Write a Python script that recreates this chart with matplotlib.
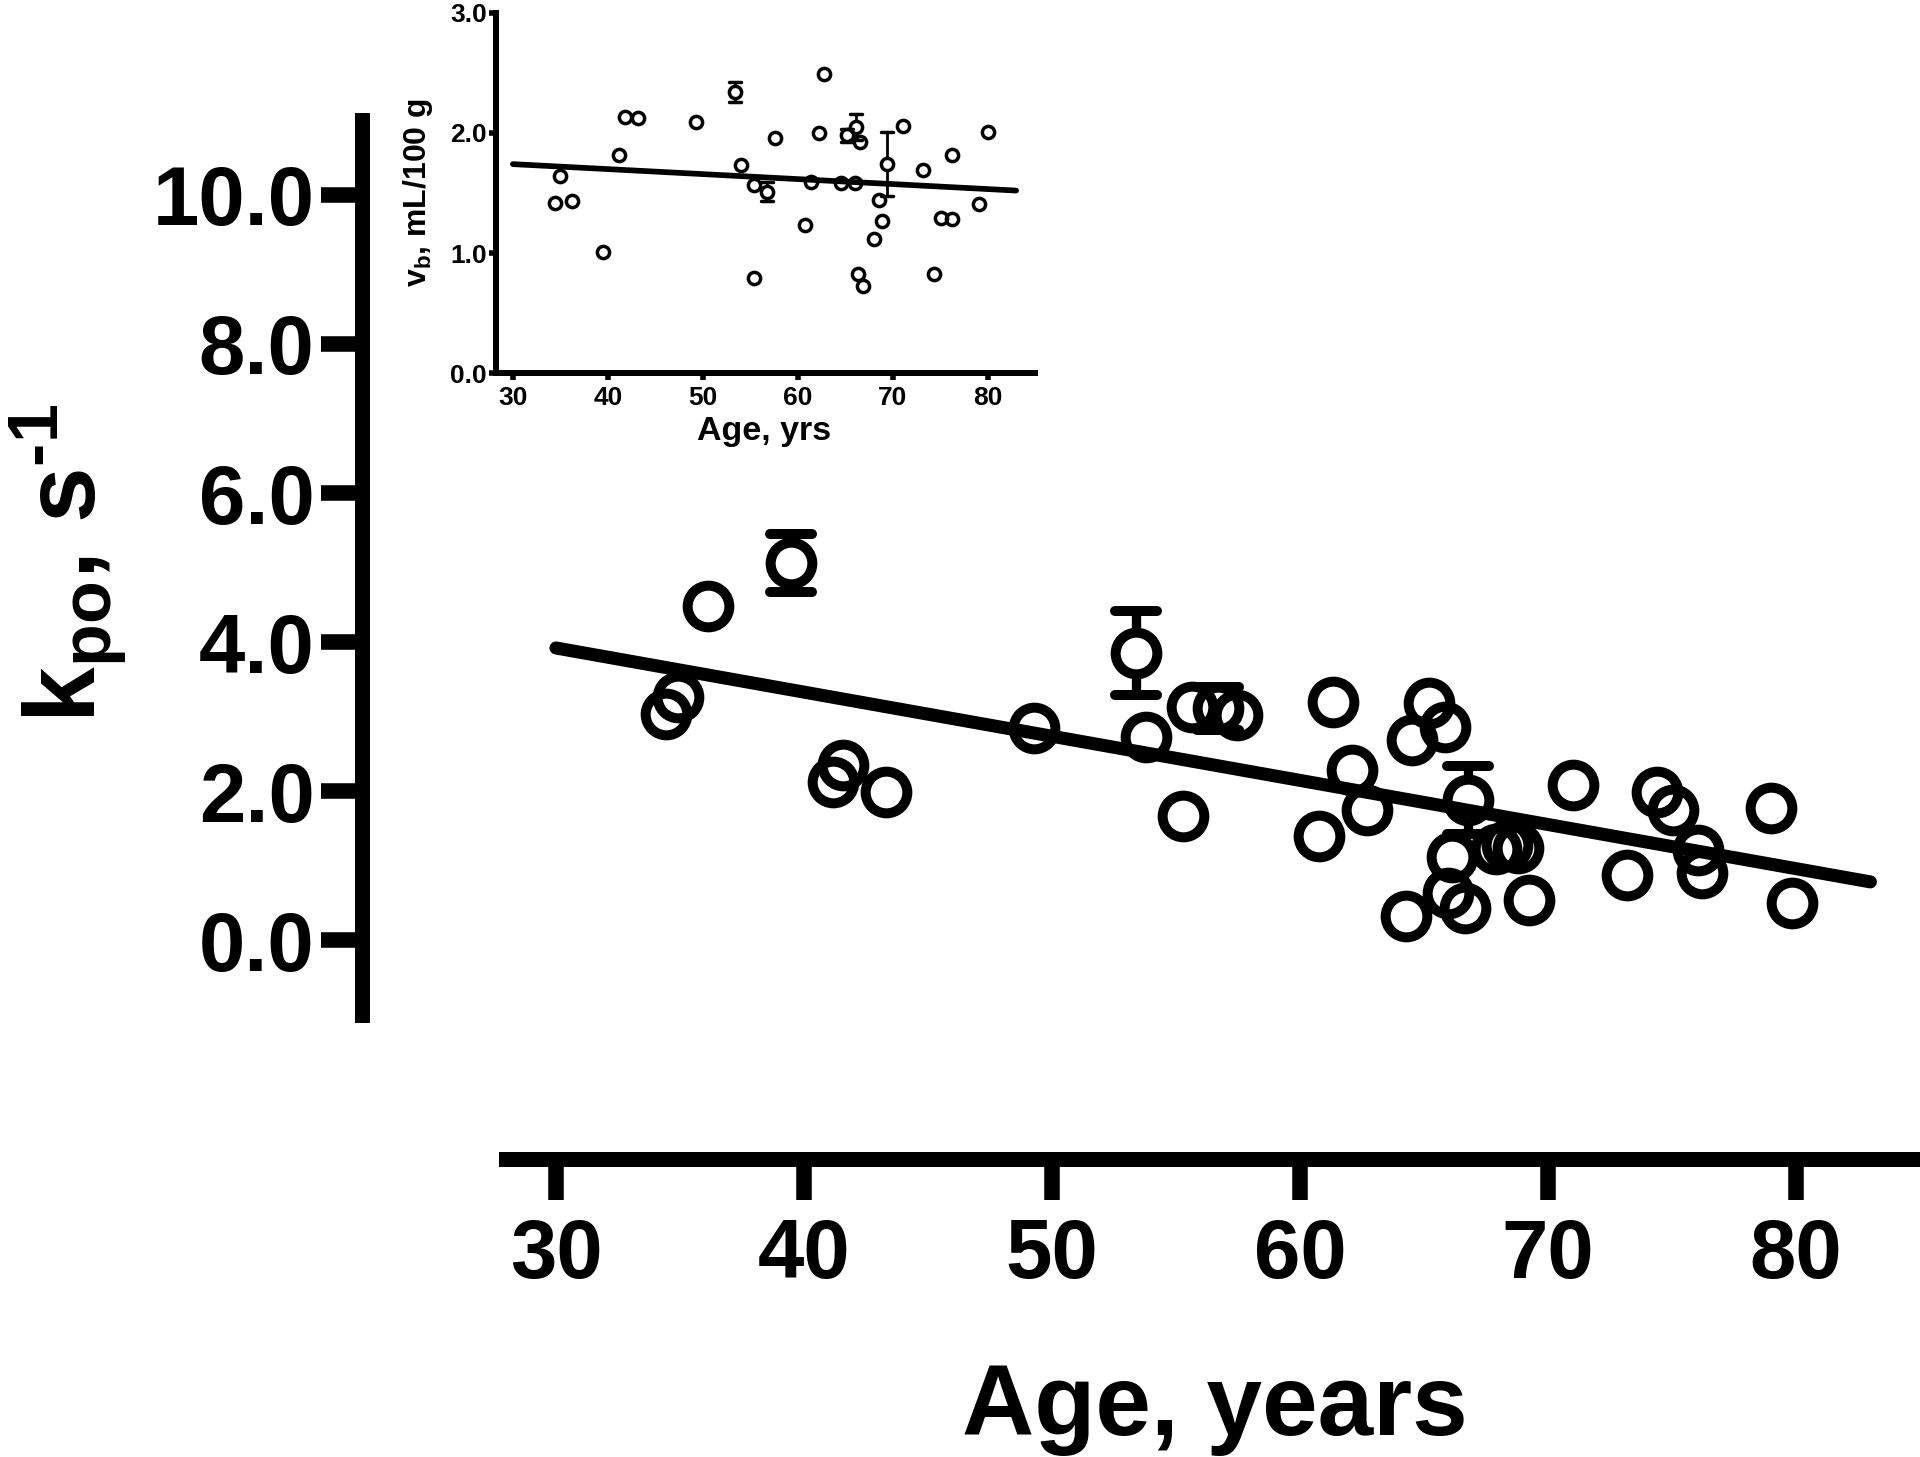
import matplotlib
matplotlib.use('Agg')

import matplotlib.pyplot as plt
from matplotlib.markers import MarkerStyle

plt.rcParams['font.family'] = ['Liberation Sans', 'DejaVu Sans']
plt.rcParams['font.weight'] = 'bold'
plt.rcParams['mathtext.default'] = 'regular'
plt.rcParams['mathtext.fontset'] = 'custom'
plt.rcParams['mathtext.rm'] = 'Liberation Sans:bold'

# main panel: k_po against age (sd = 0 means no error bar)
age = [34.44, 34.93, 36.14, 39.48, 41.18, 41.59, 43.29, 49.27, 53.38, 53.8,
       55.27, 55.63, 56.7, 57.45, 60.78, 61.35, 62.08, 62.69, 64.27, 64.5,
       65.21, 65.85, 65.98, 66.12, 66.65, 66.79, 67.9, 68.35, 68.8, 69.25,
       71.0, 73.17, 74.38, 75.05, 76.06, 76.2, 78.98, 79.85]
kpo = [3.04, 3.26, 4.48, 5.06, 2.12, 2.35, 1.99, 2.84, 3.85, 2.73,
       1.66, 3.13, 3.11, 3.02, 1.39, 3.20, 2.28, 1.74, 0.32, 2.68,
       3.18, 2.86, 0.63, 1.12, 0.43, 1.88, 1.22, 1.27, 1.23, 0.54,
       2.08, 0.87, 1.99, 1.74, 1.21, 0.90, 1.77, 0.50]
kpo_sd = [0, 0, 0, 0.39, 0, 0, 0, 0, 0.56, 0,
          0, 0, 0.29, 0, 0, 0, 0, 0, 0, 0,
          0, 0, 0, 0, 0, 0.46, 0, 0, 0, 0,
          0, 0, 0, 0, 0, 0, 0, 0]
fit_age = [30, 83]
kpo_fit = [3.92, 0.78]

# inset: v_b against age
vb_age = [34.4, 35.0, 36.2, 39.5, 41.2, 41.8, 43.2, 49.3, 53.4, 54.0,
          55.4, 55.4, 56.8, 57.6, 60.8, 61.4, 62.2, 62.8, 64.6, 65.2,
          66.0, 66.1, 66.3, 66.6, 66.9, 68.0, 68.6, 68.9, 69.4, 71.1,
          73.2, 74.4, 75.1, 76.2, 76.2, 79.1, 80.0]
vb = [1.42, 1.64, 1.43, 1.01, 1.82, 2.13, 2.12, 2.09, 2.34, 1.73,
      1.57, 0.79, 1.51, 1.96, 1.23, 1.59, 2.00, 2.49, 1.58, 1.98,
      1.58, 2.05, 0.83, 1.92, 0.73, 1.12, 1.44, 1.27, 1.74, 2.06,
      1.69, 0.83, 1.29, 1.28, 1.82, 1.41, 2.01]
vb_sd = [0, 0, 0, 0, 0, 0, 0, 0, 0.08, 0,
         0, 0, 0.08, 0, 0, 0, 0, 0, 0, 0.055,
         0, 0.11, 0, 0, 0, 0, 0, 0, 0.265, 0,
         0, 0, 0, 0, 0, 0, 0]
vb_fit_age = [30, 83]
vb_fit = [1.74, 1.52]

main_yticks = [0, 2, 4, 6, 8, 10]
main_ylabels = ['0.0', '2.0', '4.0', '6.0', '8.0', '10.0']
inset_yticks = [0, 1, 2, 3]
inset_ylabels = ['0.0', '1.0', '2.0', '3.0']
age_ticks = [30, 40, 50, 60, 70, 80]
age_labels = ['30', '40', '50', '60', '70', '80']

fig = plt.figure(figsize=(19.2, 14.57), dpi=100)


def draw_points(ax, x, y, sd, ms, mew, elw):
    ax.plot(x, y, 'o', ms=ms, mfc='none', mec='k', mew=mew,
            clip_on=False, zorder=3)
    # symbol radius in data units, error bars start at the edge of the circle
    p0 = ax.transData.transform((0, 0))
    p1 = ax.transData.transform((0, 1))
    r = ms / 2.0 * fig.dpi / 72.0 / (p1[1] - p0[1])
    cap = MarkerStyle('_', capstyle='round')
    for xi, yi, si in zip(x, y, sd):
        if si <= 0:
            continue
        if si > r:
            ax.vlines([xi, xi], [yi + r, yi - si], [yi + si, yi - r],
                      color='k', lw=elw, zorder=2)
        ax.plot([xi, xi], [yi - si, yi + si], ls='none', marker=cap,
                ms=ms, mew=mew, color='k', clip_on=False, zorder=3)


# ---- main panel
ax = fig.add_axes([0.1888, 0.2045, 0.8112, 0.7128])
ax.set_xlim(22.2, 85.0)
ax.set_ylim(-2.94, 11.0)
ax.patch.set_visible(False)
for s in ['top', 'right']:
    ax.spines[s].set_visible(False)
ax.spines['left'].set_bounds(-1, 11)
ax.spines['bottom'].set_bounds(28, 85)
for s in ['left', 'bottom']:
    ax.spines[s].set_linewidth(10.8)

ax.set_yticks(main_yticks, main_ylabels)
ax.set_xticks(age_ticks, age_labels)
ax.tick_params(axis='both', direction='out', length=29.5, width=11.2,
               labelsize=60)
ax.tick_params(axis='y', pad=5)
ax.tick_params(axis='x', pad=12)

ax.plot(fit_age, kpo_fit, color='k', lw=9.4, solid_capstyle='round', zorder=2)
draw_points(ax, age, kpo, kpo_sd, ms=30, mew=7.2, elw=6.7)

fig.text(0.0354, 0.613, r'k$_{po}$, s$^{\text{-1}}$', rotation=90,
         fontsize=72, ha='center', va='center')
fig.text(0.6328, 0.0151, 'Age, years', fontsize=72, ha='center',
         va='baseline')

# ---- inset
ax2 = fig.add_axes([0.2585, 0.7438, 0.2806, 0.2475])
ax2.set_xlim(28.25, 85.0)
ax2.set_ylim(0, 3)
ax2.patch.set_visible(False)
for s in ['top', 'right']:
    ax2.spines[s].set_visible(False)
for s in ['left', 'bottom']:
    ax2.spines[s].set_linewidth(4.3)
ax2.set_yticks(inset_yticks, inset_ylabels)
ax2.set_xticks(age_ticks, age_labels)
ax2.tick_params(axis='both', direction='out', length=5, width=4,
                labelsize=19)
ax2.tick_params(axis='y', pad=2)
ax2.tick_params(axis='x', pad=4)

ax2.plot(vb_fit_age, vb_fit, color='k', lw=4.1, solid_capstyle='round',
         zorder=2)
draw_points(ax2, vb_age, vb, vb_sd, ms=8.8, mew=2.5, elw=2.0)

fig.text(0.2177, 0.8675, 'v$_{b}$, mL/100 g', rotation=90, fontsize=23,
         ha='center', va='center')
fig.text(0.398, 0.698, 'Age, yrs', fontsize=24.5, ha='center',
         va='baseline')

fig.savefig('out.png', dpi=100)
